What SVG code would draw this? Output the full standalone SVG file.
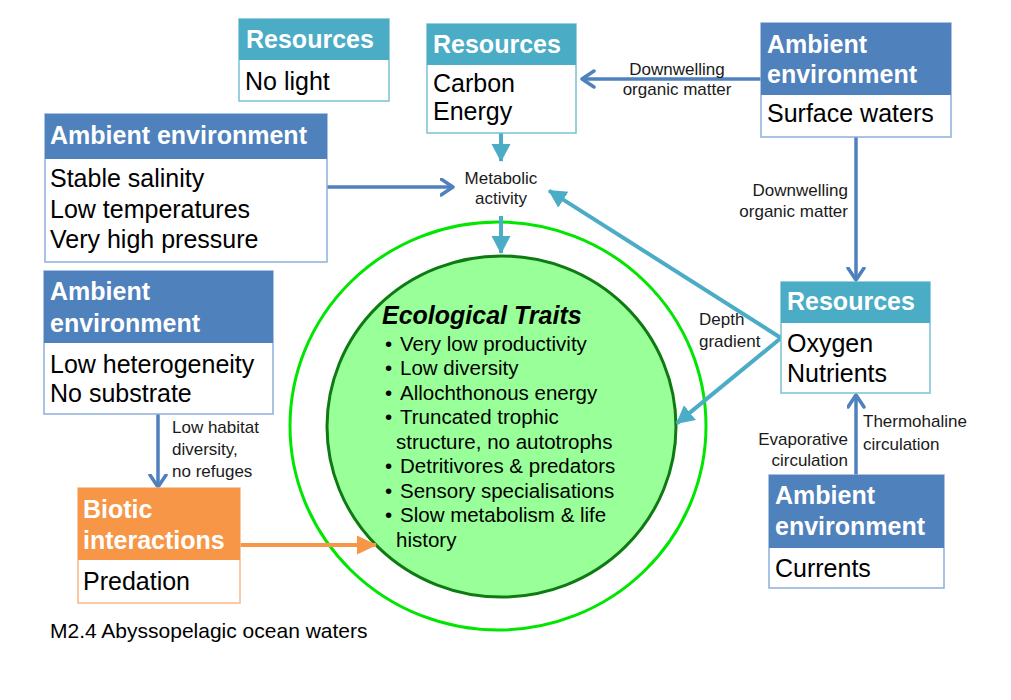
<svg xmlns="http://www.w3.org/2000/svg" width="1011" height="700" viewBox="0 0 1011 700">
<style>
.hd{font-family:"Liberation Sans",Arial,sans-serif;font-weight:bold;font-size:25px;fill:#fff}
.bd{font-family:"Liberation Sans",Arial,sans-serif;font-size:25px;fill:#000}
.lb{font-family:"Liberation Sans",Arial,sans-serif;font-size:17px;fill:#1a1a1a}
.tr{font-family:"Liberation Sans",Arial,sans-serif;font-size:20.5px;fill:#000}
.teal{fill:#4BACC6}
.blue{fill:#4F81BD}
.orange{fill:#F79646}
.tbox{fill:#fff;stroke:#78C0D4;stroke-width:1.5}
.bbox{fill:#fff;stroke:#8EAEDB;stroke-width:1.5}
.obox{fill:#fff;stroke:#F9B98A;stroke-width:1.5}
.ct{stroke:#4BACC6;stroke-width:4;fill:none}
.cb{stroke:#4F81BD;stroke-width:3.5;fill:none}
.co{stroke:#F79646;stroke-width:4;fill:none}
</style>
<defs>
<marker id="mt" markerUnits="userSpaceOnUse" markerWidth="20" markerHeight="20" refX="17" refY="9.5" orient="auto">
<path d="M0,0 L18,9.5 L0,19 z" fill="#4BACC6"/>
</marker>
<marker id="mb" markerUnits="userSpaceOnUse" markerWidth="18" markerHeight="20" refX="13.5" refY="9.5" orient="auto">
<path d="M1.5,1.5 L13.5,9.5 L1.5,17.5" fill="none" stroke="#4F81BD" stroke-width="3.5" stroke-linejoin="round" stroke-linecap="round"/>
</marker>
<marker id="mo" markerUnits="userSpaceOnUse" markerWidth="22" markerHeight="20" refX="19" refY="9.5" orient="auto">
<path d="M0,0 L20,9.5 L0,19 z" fill="#F79646"/>
</marker>
</defs>
<rect width="1011" height="700" fill="#fff"/>

<g id="traits">
<ellipse cx="498" cy="426" rx="208" ry="204" fill="none" stroke="#00E600" stroke-width="3"/>
<ellipse cx="501.5" cy="426.5" rx="174.5" ry="170.5" fill="#99FF99" stroke="#0E7A12" stroke-width="3"/>
<text x="382" y="324" font-family="Liberation Sans, Arial, sans-serif" font-size="25" font-weight="bold" font-style="italic" fill="#000">Ecological Traits</text>
<g class="tr">
<text x="385" y="350.5">•</text><text x="400" y="350.5">Very low productivity</text>
<text x="385" y="375">•</text><text x="400" y="375">Low diversity</text>
<text x="385" y="399.5">•</text><text x="400" y="399.5">Allochthonous energy</text>
<text x="385" y="424">•</text><text x="400" y="424">Truncated trophic</text>
<text x="396" y="448.5">structure, no autotrophs</text>
<text x="385" y="473">•</text><text x="400" y="473">Detritivores &amp; predators</text>
<text x="385" y="497.5">•</text><text x="400" y="497.5">Sensory specialisations</text>
<text x="385" y="522">•</text><text x="400" y="522">Slow metabolism &amp; life</text>
<text x="396" y="546.5">history</text>
</g>
</g>

<g id="connectors">
<line class="ct" x1="501" y1="133" x2="501" y2="161" marker-end="url(#mt)"/>
<line class="ct" x1="501" y1="216" x2="501" y2="253" marker-end="url(#mt)"/>
<line class="ct" x1="781" y1="338" x2="549" y2="190.6" marker-end="url(#mt)"/>
<line class="ct" x1="781" y1="338" x2="676.8" y2="423.4" marker-end="url(#mt)"/>
<line class="cb" x1="327" y1="187" x2="453" y2="187" marker-end="url(#mb)"/>
<line class="cb" x1="761" y1="79" x2="582" y2="79" marker-end="url(#mb)"/>
<line class="cb" x1="856" y1="137" x2="856" y2="280" marker-end="url(#mb)"/>
<line class="cb" x1="856" y1="475" x2="856" y2="395" marker-end="url(#mb)"/>
<line class="cb" x1="158" y1="414" x2="158" y2="487" marker-end="url(#mb)"/>
<line class="co" x1="240" y1="545" x2="376" y2="545" marker-end="url(#mo)"/>
<g class="lb">
<text x="677" y="75" text-anchor="middle">Downwelling</text>
<text x="677" y="95" text-anchor="middle">organic matter</text>
<text x="848" y="196" text-anchor="end">Downwelling</text>
<text x="848" y="217" text-anchor="end">organic matter</text>
<text x="501" y="184" text-anchor="middle">Metabolic</text>
<text x="501" y="204" text-anchor="middle">activity</text>
<text x="699" y="325">Depth</text>
<text x="699" y="347">gradient</text>
<text x="863" y="427">Thermohaline</text>
<text x="863" y="450">circulation</text>
<text x="848" y="445" text-anchor="end">Evaporative</text>
<text x="848" y="466" text-anchor="end">circulation</text>
<text x="172" y="433">Low habitat</text>
<text x="172" y="455">diversity,</text>
<text x="172" y="477">no refuges</text>
</g>
</g>

<g id="res-nolight">
<rect class="tbox" x="239" y="19" width="150" height="82"/>
<rect class="teal" x="239" y="19" width="150" height="41"/>
<text class="hd" x="246" y="48">Resources</text>
<text class="bd" x="245" y="90">No light</text>
</g>

<g id="res-carbon">
<rect class="tbox" x="427" y="24" width="149" height="109"/>
<rect class="teal" x="427" y="24" width="149" height="41"/>
<text class="hd" x="433" y="53">Resources</text>
<text class="bd" x="433" y="92">Carbon</text>
<text class="bd" x="433" y="120">Energy</text>
</g>

<g id="amb-surface">
<rect class="bbox" x="761" y="23" width="190" height="114"/>
<rect class="blue" x="761" y="23" width="190" height="72"/>
<text class="hd" x="767" y="53">Ambient</text>
<text class="hd" x="767" y="83">environment</text>
<text class="bd" x="767" y="122">Surface waters</text>
</g>

<g id="amb-stable">
<rect class="bbox" x="45" y="114" width="282" height="148"/>
<rect class="blue" x="45" y="114" width="282" height="45"/>
<text class="hd" x="50" y="144">Ambient environment</text>
<text class="bd" x="50" y="187">Stable salinity</text>
<text class="bd" x="50" y="218">Low temperatures</text>
<text class="bd" x="50" y="248">Very high pressure</text>
</g>

<g id="amb-hetero">
<rect class="bbox" x="44" y="271" width="229" height="143"/>
<rect class="blue" x="44" y="271" width="229" height="72"/>
<text class="hd" x="50" y="300">Ambient</text>
<text class="hd" x="50" y="332">environment</text>
<text class="bd" x="50" y="373">Low heterogeneity</text>
<text class="bd" x="50" y="402">No substrate</text>
</g>

<g id="biotic">
<rect class="obox" x="78" y="488" width="162" height="115"/>
<rect class="orange" x="78" y="488" width="162" height="72"/>
<text class="hd" x="83" y="518">Biotic</text>
<text class="hd" x="83" y="549">interactions</text>
<text class="bd" x="83" y="590">Predation</text>
</g>

<g id="res-oxygen">
<rect class="tbox" x="781" y="282" width="149" height="111"/>
<rect class="teal" x="781" y="282" width="149" height="41"/>
<text class="hd" x="787" y="310">Resources</text>
<text class="bd" x="787" y="352">Oxygen</text>
<text class="bd" x="787" y="382">Nutrients</text>
</g>

<g id="amb-currents">
<rect class="bbox" x="769" y="475" width="175" height="113"/>
<rect class="blue" x="769" y="475" width="175" height="73"/>
<text class="hd" x="775" y="504">Ambient</text>
<text class="hd" x="775" y="535">environment</text>
<text class="bd" x="775" y="577">Currents</text>
</g>

<text x="50" y="638" font-family="Liberation Sans, Arial, sans-serif" font-size="21" fill="#000">M2.4 Abyssopelagic ocean waters</text>
</svg>
